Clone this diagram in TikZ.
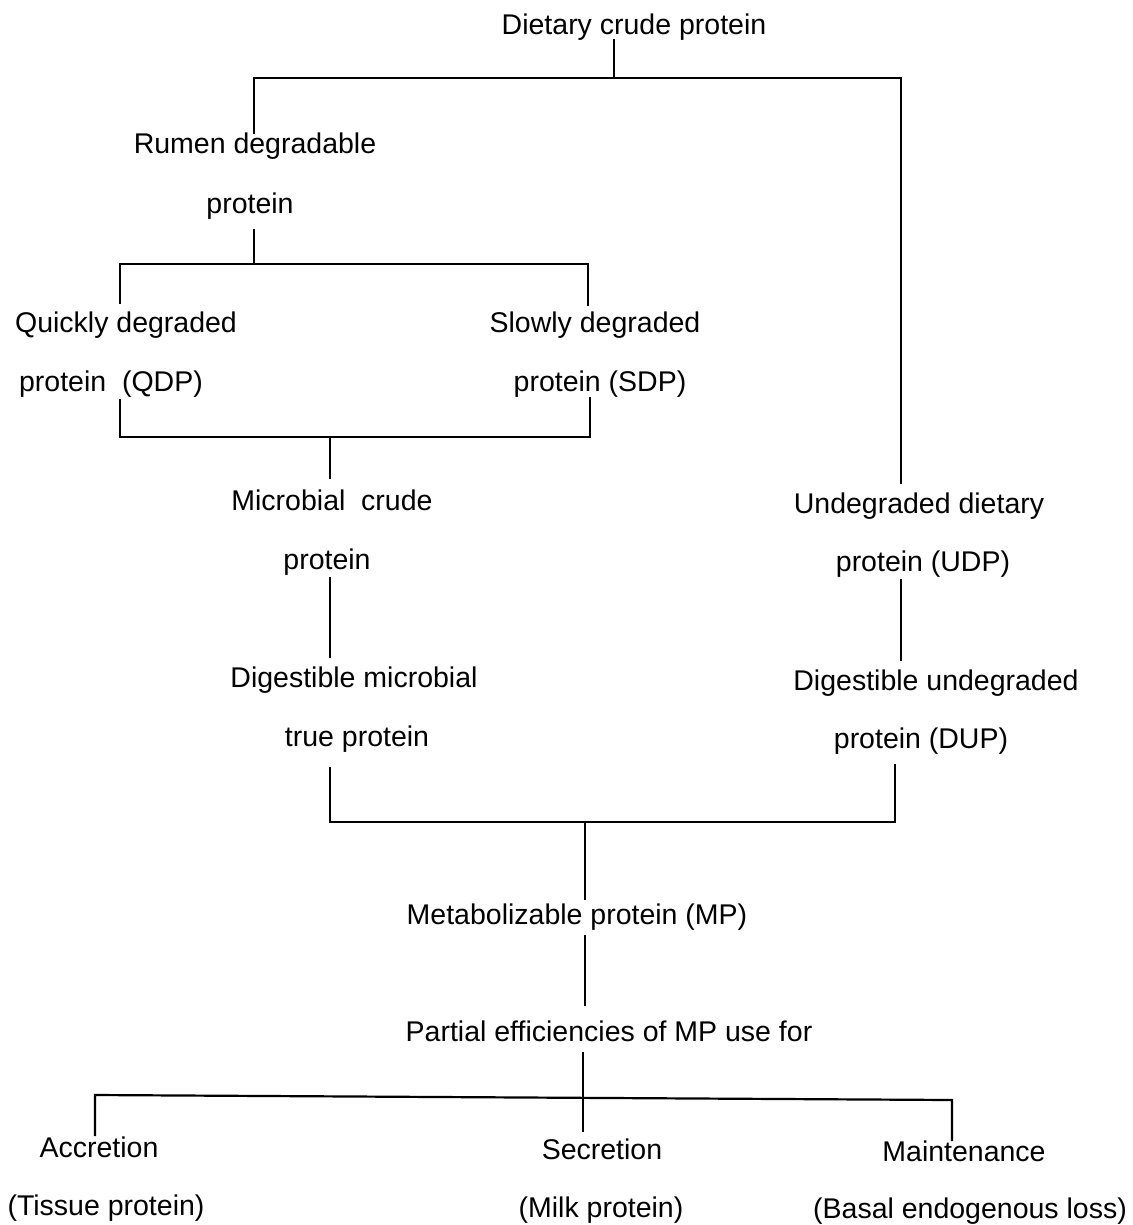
\documentclass[tikz,border=0pt]{standalone}
\usepackage{fontspec}
\setmainfont{Liberation Sans}
\begin{document}
\begin{tikzpicture}[x=1pt,y=-1pt,
  lbl/.style={anchor=base,inner sep=0pt,font=\fontsize{28.5}{34}\selectfont},
  conn/.style={line width=2.2pt,line cap=rect}]
\useasboundingbox[fill=white] (0,0) rectangle (1132,1225);
% texts (x = centre, y = baseline)
\node[lbl] (dcp)  at (634,35)   {Dietary crude protein};
\node[lbl] (rdp1) at (255,154)  {Rumen degradable};
\node[lbl] (rdp2) at (250,213)  {protein};
\node[lbl] (qdp1) at (126,332)  {Quickly degraded};
\node[lbl] (qdp2) at (111,391)  {protein\ \ (QDP)};
\node[lbl] (sdp1) at (595,332)  {Slowly degraded};
\node[lbl] (sdp2) at (600,391)  {protein (SDP)};
\node[lbl] (mcp1) at (332,510)  {Microbial\ \ crude};
\node[lbl] (mcp2) at (327,569)  {protein};
\node[lbl] (dmt1) at (354,687)  {Digestible microbial};
\node[lbl] (dmt2) at (357,746)  {true protein};
\node[lbl] (udp1) at (919,513)  {Undegraded dietary};
\node[lbl] (udp2) at (923,571)  {protein (UDP)};
\node[lbl] (dup1) at (936,690)  {Digestible undegraded};
\node[lbl] (dup2) at (921,748)  {protein (DUP)};
\node[lbl] (mp)   at (577,924)  {Metabolizable protein (MP)};
\node[lbl] (pe)   at (609,1041) {Partial efficiencies of MP use for};
\node[lbl] (acc1) at (99,1157)  {Accretion};
\node[lbl] (acc2) at (106,1215) {(Tissue protein)};
\node[lbl] (sec1) at (602,1159) {Secretion};
\node[lbl] (sec2) at (601,1217) {(Milk protein)};
\node[lbl] (mnt1) at (964,1161) {Maintenance};
\node[lbl] (mnt2) at (970,1218) {(Basal endogenous loss)};
% connector points
\coordinate (a0) at (614,40);  \coordinate (a1) at (614,78);
\coordinate (aL) at (254,78);  \coordinate (aR) at (901,78);
\coordinate (aLe) at (254,133); \coordinate (aRe) at (901,483);
\coordinate (b0) at (254,230); \coordinate (b1) at (254,264);
\coordinate (bL) at (120,264); \coordinate (bR) at (588,264);
\coordinate (bLe) at (120,303); \coordinate (bRe) at (588,305);
\coordinate (cL0) at (120,400); \coordinate (cR0) at (590,398);
\coordinate (cL) at (120,437); \coordinate (cR) at (590,437);
\coordinate (c1) at (330,437); \coordinate (c1e) at (330,478);
\coordinate (d0) at (330,578); \coordinate (d1) at (330,657);
\coordinate (e0) at (330,768); \coordinate (eL) at (330,822);
\coordinate (eR) at (895,822); \coordinate (eR0) at (895,765);
\coordinate (u0) at (901,580); \coordinate (u1) at (901,660);
\coordinate (m0) at (585,822); \coordinate (m1) at (585,899);
\coordinate (p0) at (585,936); \coordinate (p1) at (585,1005);
\coordinate (q0) at (583,1053); \coordinate (q1) at (583,1131);
\coordinate (qL) at (95,1095); \coordinate (qR) at (952,1100);
\coordinate (qLe) at (95,1135); \coordinate (qRe) at (952,1140);
% connectors
\draw[conn] (a0) -- (a1);
\draw[conn] (aLe) -- (aL) -- (aR) -- (aRe);
\draw[conn] (b0) -- (b1);
\draw[conn] (bLe) -- (bL) -- (bR) -- (bRe);
\draw[conn] (cL0) -- (cL) -- (cR) -- (cR0);
\draw[conn] (c1) -- (c1e);
\draw[conn] (d0) -- (d1);
\draw[conn] (e0) -- (eL) -- (eR) -- (eR0);
\draw[conn] (u0) -- (u1);
\draw[conn] (m0) -- (m1);
\draw[conn] (p0) -- (p1);
\draw[conn] (q0) -- (q1);
\draw[conn] (qLe) -- (qL) -- (qR) -- (qRe);
\end{tikzpicture}
\end{document}
